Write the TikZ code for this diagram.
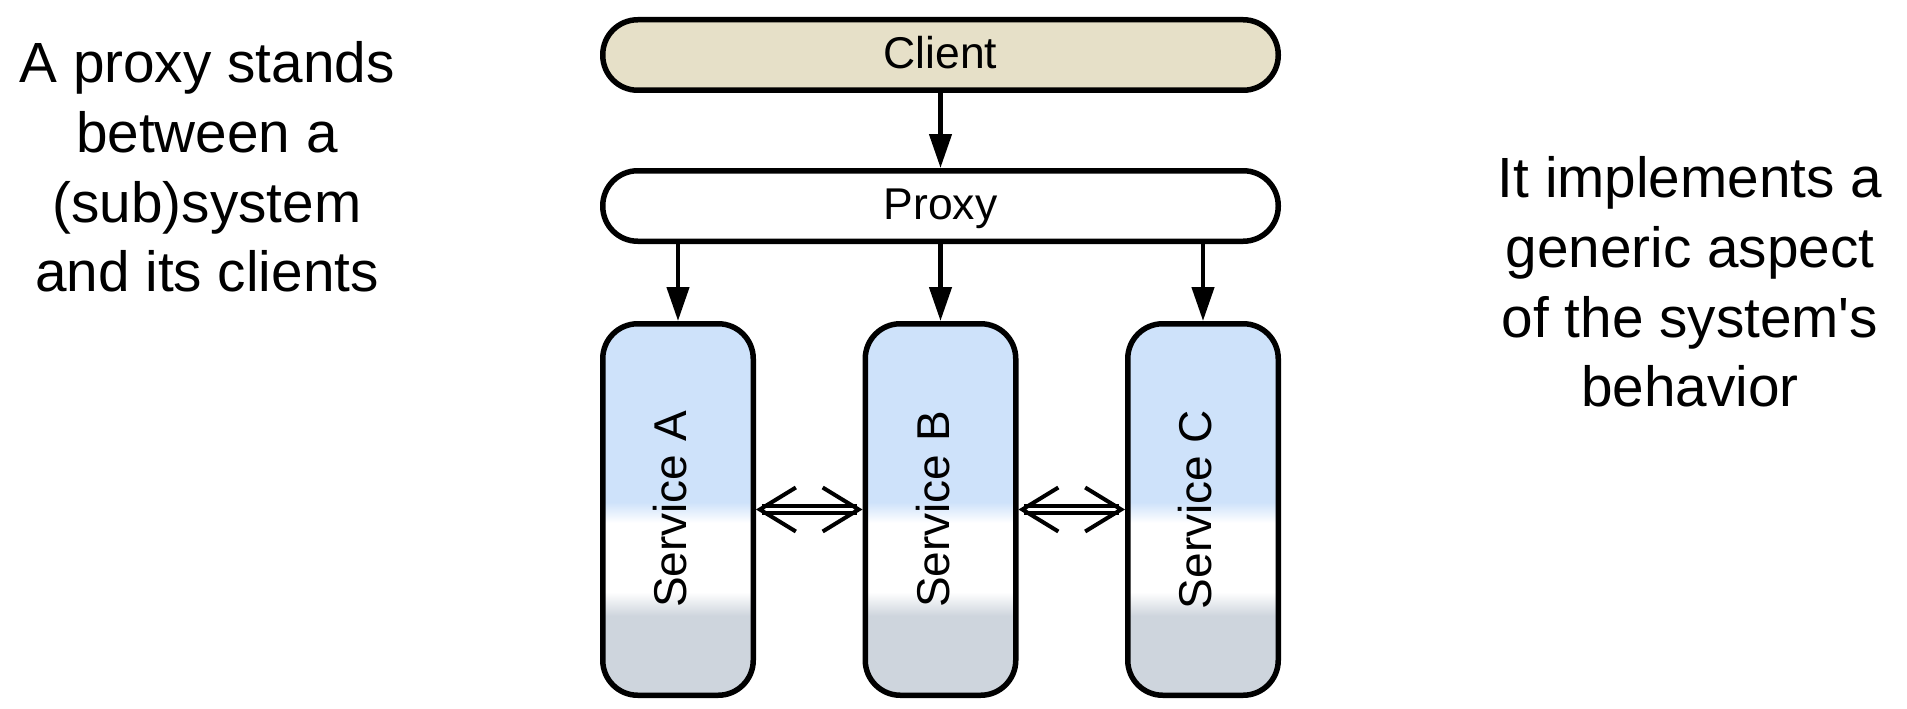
\documentclass[tikz,border=0pt]{standalone}
\usepackage{fontspec}
\setmainfont{Liberation Sans}[Ligatures=TeXOff]
\usepackage{graphicx}
\usetikzlibrary{arrows.meta}
\definecolor{clientfill}{RGB}{230,224,200}
\definecolor{svcblue}{RGB}{206,226,250}
\definecolor{svcgray}{RGB}{206,213,221}
\pgfdeclareverticalshading{svcshade}{100bp}{color(0bp)=(svcgray); color(35.7bp)=(svcgray); color(38.9bp)=(white); color(48.2bp)=(white); color(51bp)=(svcblue); color(100bp)=(svcblue)}
\newcommand\svclabel[1]{\rotatebox{90}{\rule[-16pt]{0pt}{49pt}Service #1}}
\tikzset{box/.style={draw, line width=5.5pt, rounded corners=35pt, minimum width=675.5pt, minimum height=70.5pt,
      inner sep=0pt, text height=31.9pt, text depth=4pt, font=\fontsize{44.5}{53}\selectfont}}
\tikzset{svc/.style={box, shade, shading=svcshade, minimum width=150.5pt, minimum height=371.5pt,
      text height={}, text depth={}, font=\fontsize{46}{55}\selectfont}}
\tikzset{call/.style={line width=4.5pt, -{Triangle[length=34pt,width=22pt]}}}
\tikzset{peer/.style={double, line width=3.4pt, double distance=3.6pt,
      {Straight Barb[length=36pt,width=44pt,line width=4pt]}-{Straight Barb[length=36pt,width=44pt,line width=4pt]}}}
\tikzset{note/.style={align=center, inner sep=0pt, font=\fontsize{56.7}{69.6}\selectfont}}

\begin{document}
\begin{tikzpicture}[x=1pt,y=-1pt]
		\useasboundingbox (0,0) rectangle (1907,709);
		\node[box, fill=clientfill] (client) at (940.5,55) {Client};
		\node[box] (proxy) at (940.5,206) {Proxy};
		\foreach \n/\x in {A/678,B/940.5,C/1203}
			\node[svc] (svc\n) at (\x,509.5) {\svclabel{\n}};
		\draw[call] (client) -- (proxy);
		\foreach \n in {A,B,C}
			\draw[call] (proxy.south -| svc\n) -- (svc\n);
		\draw[peer] (svcA) -- (svcB);
		\draw[peer] (svcB) -- (svcC);
		\node[note] (lefttext) at (207,167) {A proxy stands\\between a\\(sub)system\\and its clients};
		\node[note] (righttext) at (1690,282) {It implements a\\generic aspect\\of the system's\\behavior};
\end{tikzpicture}
\end{document}
